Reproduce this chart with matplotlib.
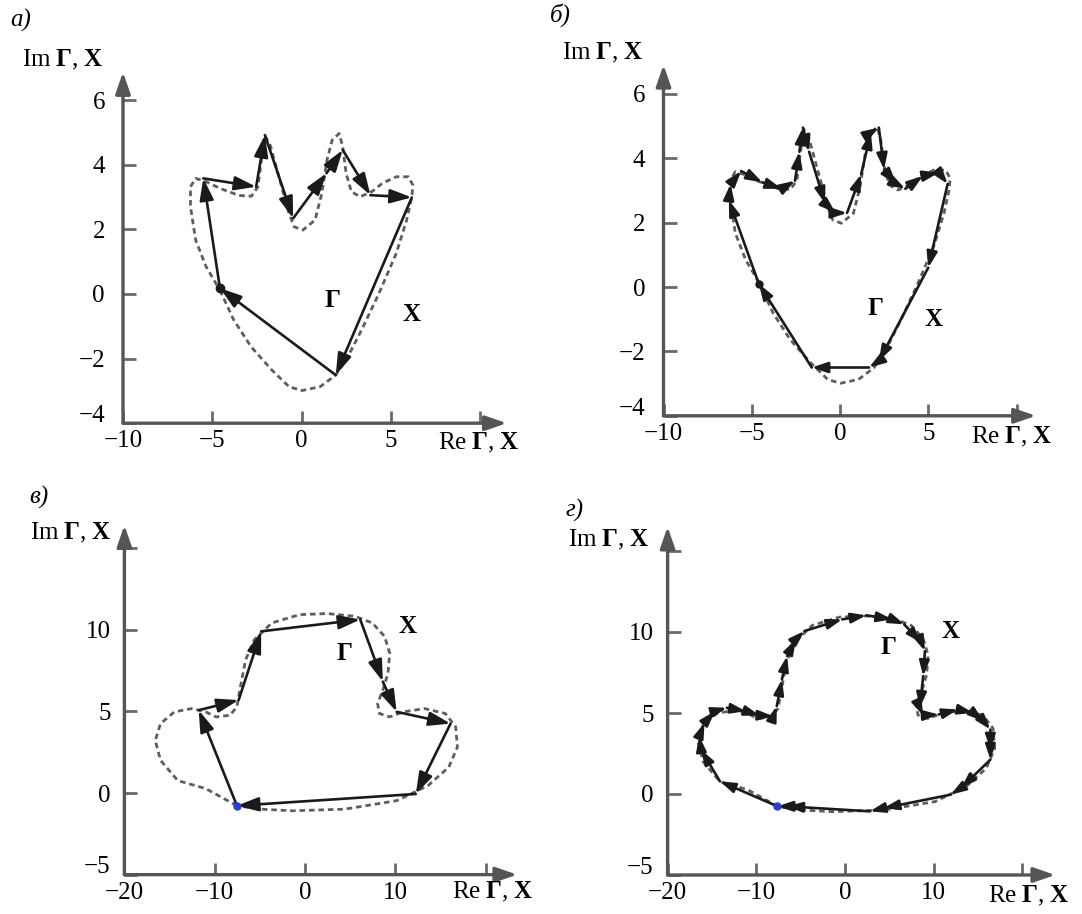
import matplotlib.pyplot as plt
from matplotlib.transforms import ScaledTranslation

plt.rcParams['font.family'] = ['Liberation Serif', 'DejaVu Serif']
plt.rcParams['mathtext.fontset'] = 'custom'
plt.rcParams['mathtext.rm'] = 'Liberation Serif'
plt.rcParams['mathtext.it'] = 'Liberation Serif:italic'
plt.rcParams['mathtext.bf'] = 'Liberation Serif:bold'

W, H = 1082, 914

# ---- data ----
# "crown" contour X (panels a, b)
crown_x_re = [-4.57, -3.80, -2.83, -1.67, -0.70, 0.02, 1.05, 1.92, 2.60, 3.37, 4.34, 5.31,
              5.89, 6.18, 6.24, 5.99, 5.31, 4.53, 3.95, 3.28, 2.79, 2.50, 2.31, 2.11, 1.72,
              1.43, 1.14, 0.76, 0.08, -0.41, -0.70, -1.30, -1.75, -2.05, -2.25, -2.44,
              -2.80, -3.50, -4.57, -5.35, -5.93, -6.22, -6.22, -5.93, -5.35, -4.57]
crown_x_im = [0.12, -0.80, -1.63, -2.35, -2.87, -2.99, -2.87, -2.51, -1.94, -1.11, 0.02, 1.26,
              2.29, 3.01, 3.37, 3.63, 3.63, 3.43, 3.17, 3.01, 3.17, 3.74, 4.56, 4.97, 4.77,
              4.15, 3.12, 2.29, 1.98, 2.08, 2.50, 3.70, 4.60, 4.90, 4.15, 3.32,
              3.03, 3.05, 3.27, 3.48, 3.58, 3.32, 2.70, 1.67, 0.85, 0.12]

# polygon Gamma, panel a
ga_re = [-4.57, -5.50, -2.54, -2.05, -0.47, 1.40, 2.31, 3.86, 6.18, 1.92, -4.57]
ga_im = [0.18, 3.58, 3.32, 4.92, 2.34, 3.74, 4.46, 3.06, 2.99, -2.51, 0.18]

# polygon Gamma, panel b
gb_re = [-4.60, -6.30, -6.20, -5.60, -4.40, -3.30, -2.55, -2.30, -2.10, -1.75, -0.85, -0.25,
         0.40, 1.20, 1.75, 2.20, 2.50, 3.20, 3.70, 4.70, 5.60, 6.10, 5.00, 2.20, 1.65, -1.60,
         -4.60]
gb_im = [0.10, 2.70, 3.20, 3.60, 3.25, 3.05, 3.30, 4.20, 4.95, 4.20, 2.60, 2.30,
         2.30, 3.50, 4.80, 4.95, 3.65, 3.20, 3.05, 3.45, 3.55, 3.20, 0.60, -2.30, -2.50, -2.50,
         0.10]

# "hat" contour X (panels c, d)
hat_x_re = [-7.54, -11.0, -14.08, -16.0, -16.58, -16.0, -14.46, -12.54, -11.0, -9.85, -8.31,
            -7.54, -7.15, -6.58, -5.62, -3.69, -0.62, 2.46, 5.54, 7.46, 8.81, 9.38, 9.19, 8.62,
            8.04, 8.23, 9.38, 10.92, 13.23, 15.54, 16.69, 16.88, 15.92, 13.62, 10.15, 4.38,
            -1.38, -4.85, -7.54]
hat_x_im = [-0.78, 0.27, 0.76, 2.0, 3.22, 4.25, 4.97, 5.17, 4.97, 4.66, 4.76,
            5.28, 6.51, 8.15, 9.38, 10.41, 10.92, 10.99, 10.82, 10.41, 9.59, 8.56, 7.33, 6.30,
            5.48, 4.87, 4.66, 4.97, 5.17, 4.87, 4.05, 2.81, 1.58, 0.45, -0.47, -0.99,
            -1.09, -0.99, -0.78]

# polygon Gamma, panel c
gc_re = [-7.54, -11.77, -7.35, -4.85, 6.12, 8.62, 10.15, 16.12, 12.27, -7.54]
gc_im = [-0.78, 5.07, 5.69, 9.90, 10.62, 6.82, 4.97, 4.25, -0.06, -0.78]

# polygon Gamma, panel d
gd_re = [-7.61, -14.10, -16.23, -16.43, -15.84, -14.68, -13.32, -11.18, -9.63, -8.08, -7.69,
         -7.11, -6.52, -5.55, -4.58, -0.31, 2.41, 5.32, 6.68, 8.62, 9.01, 8.82, 8.43, 8.82,
         10.56, 12.70, 14.45, 15.61, 16.39, 16.39, 16.39, 13.09, 11.92, 4.35, 2.80, -6.52,
         -7.61]
gd_im = [-0.76, 0.78, 2.74, 3.57, 4.39, 5.11, 5.32, 5.11, 4.85, 4.80, 5.42,
         7.07, 8.52, 9.55, 10.06, 10.78, 11.03, 10.78, 10.47, 9.34, 8.82, 7.28, 5.32, 4.85,
         4.91, 5.22, 5.01, 4.49, 3.98, 2.74, 2.12, 0.37, -0.04, -0.87, -1.07, -0.76,
         -0.76]

xticks_ab = [-10, -5, 0, 5, 10]
xlabels_ab = ['\u221210', '\u22125', '0', '5', '']
yticks_ab = [-4, -2, 0, 2, 4, 6]
ylabels_ab = ['\u22124', '\u22122', '0', '2', '4', '6']
xticks_cd = [-20, -10, 0, 10, 20]
xlabels_cd = ['\u221220', '\u221210', '0', '10', '']
yticks_cd = [-5, 0, 5, 10, 15]
ylabels_cd = ['\u22125', '0', '5', '10', '']

panel_names = ['\u0430)', '\u0431)', '\u0432)', '\u0433)']

IM_LABEL = r'$\mathrm{Im}\ \mathbf{\Gamma}\mathrm{,}\ \mathbf{X}$'
RE_LABEL = r'$\mathrm{Re}\ \mathbf{\Gamma}\mathrm{,}\ \mathbf{X}$'

AXIS_C = '#555555'
LINE_C = '#1a1a1a'
DOT_C = '#5e5e5e'
FS = 18

fig = plt.figure(figsize=(W / 100, H / 100), dpi=100)


def make_axes(ox, oy, sx, sy, x0, y0, xtip, ytip):
    # ox, oy: pixel position of data origin; sx, sy: pixels per unit
    mx = 0.05 * (xtip - x0)
    my = 0.05 * (ytip - y0)
    xlim = (x0 - mx, xtip + mx)
    ylim = (y0 - my, ytip + my)
    left = ox + xlim[0] * sx
    right = ox + xlim[1] * sx
    top = oy - ylim[1] * sy
    bottom = oy - ylim[0] * sy
    ax = fig.add_axes([left / W, 1 - bottom / H, (right - left) / W, (bottom - top) / H])
    ax.set_xlim(*xlim)
    ax.set_ylim(*ylim)
    ax.patch.set_visible(False)
    for s in ax.spines.values():
        s.set_visible(False)
    ax.spines['left'].set_position(('data', x0))
    ax.spines['bottom'].set_position(('data', y0))
    axis_arrow = dict(arrowstyle='-|>,head_length=1.3,head_width=0.45', color=AXIS_C,
                      lw=2.4, shrinkA=0, shrinkB=0)
    ax.annotate('', xy=(xtip, y0), xytext=(x0, y0), arrowprops=axis_arrow)
    ax.annotate('', xy=(x0, ytip), xytext=(x0, y0), arrowprops=axis_arrow)
    return ax


def set_ticks(ax, xt, xl, yt, yl, ypad):
    ax.set_xticks(xt, xl)
    ax.set_yticks(yt, yl)
    ax.tick_params(direction='in', length=9, width=2, color='#6a6a6a', labelsize=FS)
    ax.tick_params(axis='x', pad=5)
    ax.tick_params(axis='y', pad=ypad)
    # the lowest y label sits a little above the horizontal axis
    lab = ax.yaxis.get_major_ticks()[0].label1
    lab.set_transform(lab.get_transform() + ScaledTranslation(0, 7 / 72, fig.dpi_scale_trans))


def draw_gamma(ax, re, im, hl, hw, ms=10):
    style = f'-|>,head_length={hl},head_width={hw}'
    for i in range(len(re) - 1):
        ax.annotate('', xy=(re[i + 1], im[i + 1]), xytext=(re[i], im[i]),
                    arrowprops=dict(arrowstyle=style, color=LINE_C, lw=1.9,
                                    shrinkA=0, shrinkB=0, mutation_scale=ms))


def draw_x(ax, re, im):
    ax.plot(re, im, color=DOT_C, lw=2.0, linestyle=(0, (2.0, 1.4)), zorder=1)


def name_curves(ax, g_pos, x_pos):
    ax.text(*g_pos, '\u0393', fontsize=FS, fontweight='bold', ha='center', va='center')
    ax.text(*x_pos, 'X', fontsize=FS, fontweight='bold', ha='center', va='center')


# ---- panel a ----
ax = make_axes(301.5, 294, 17.85, 32.3, -10, -4, 11.5, 6.87)
set_ticks(ax, xticks_ab, xlabels_ab, yticks_ab, ylabels_ab, 13)
draw_x(ax, crown_x_re, crown_x_im)
draw_gamma(ax, ga_re, ga_im, 1.3, 0.42)
ax.plot(ga_re[0], ga_im[0], 'o', color=LINE_C, ms=6)
name_curves(ax, (1.72, -0.19), (6.18, -0.65))

# ---- panel b ----
ax = make_axes(840, 287, 17.65, 32.2, -10, -4, 11.1, 6.9)
set_ticks(ax, xticks_ab, xlabels_ab, yticks_ab, ylabels_ab, 13)
draw_x(ax, crown_x_re, crown_x_im)
draw_gamma(ax, gb_re, gb_im, 0.95, 0.32)
ax.plot(gb_re[0], gb_im[0], 'o', color=LINE_C, ms=5)
name_curves(ax, (2.02, -0.66), (5.30, -1.02))

# ---- panel c ----
ax = make_axes(305, 793, 9.03, 16.33, -20, -5, 23.5, 16.4)
set_ticks(ax, xticks_cd, xlabels_cd, yticks_cd, ylabels_cd, 10)
draw_x(ax, hat_x_re, hat_x_im)
draw_gamma(ax, gc_re, gc_im, 1.3, 0.42)
ax.plot(gc_re[0], gc_im[0], 'o', color='#2a3fd0', ms=5, zorder=3)
name_curves(ax, (4.38, 8.56), (11.31, 10.2))

# ---- panel d ----
ax = make_axes(845, 794, 8.87, 16.2, -20, -5, 23.7, 16.5)
set_ticks(ax, xticks_cd, xlabels_cd, yticks_cd, ylabels_cd, 10)
draw_x(ax, hat_x_re, hat_x_im)
draw_gamma(ax, gd_re, gd_im, 0.9, 0.3)
ax.plot(gd_re[0], gd_im[0], 'o', color='#2a3fd0', ms=5, zorder=3)
name_curves(ax, (4.93, 9.03), (11.92, 10.06))

# ---- figure texts (panel letters and axis names), pixel positions ----
letter_pos = [(10, 20), (550, 15), (29, 497), (566, 510)]
im_pos = [(22, 60), (562, 53), (30, 533), (568, 540)]
re_pos = [(438, 443), (971, 437), (452, 892), (988, 896)]
for name, (lx, ly), (ix, iy), (rx, ry) in zip(panel_names, letter_pos, im_pos, re_pos):
    fig.text(lx / W, 1 - ly / H, name, fontsize=FS, style='italic', ha='left', va='center')
    fig.text(ix / W, 1 - iy / H, IM_LABEL, fontsize=FS, ha='left', va='center')
    fig.text(rx / W, 1 - ry / H, RE_LABEL, fontsize=FS, ha='left', va='center')

fig.savefig('out.png', dpi=100)
